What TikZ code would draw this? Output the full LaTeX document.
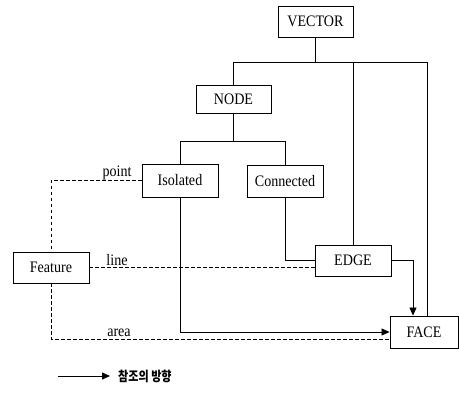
\documentclass[tikz,border=0pt]{standalone}
\usepackage{fontspec}
\setmainfont{Liberation Serif}[FakeStretch=0.88]
\newfontfamily\kr{Noto Sans CJK KR}[FakeStretch=0.82]
\usetikzlibrary{arrows.meta}
\begin{document}
\begin{tikzpicture}[x=1pt,y=-1pt,
  box/.style={draw,line width=0.9pt,inner sep=0pt,font=\fontsize{16}{18}\selectfont},
  conn/.style={line width=0.8pt},
  ref/.style={line width=0.8pt,-{Triangle[length=8pt,width=7pt]}},
  dsh/.style={line width=0.8pt,dash pattern=on 3.5pt off 2.5pt},
  lbl/.style={inner sep=0pt,font=\fontsize{16}{18}\selectfont}]
\useasboundingbox (0,0) rectangle (459,392);
\node[box,minimum width=75pt,minimum height=31pt] (VECTOR) at (315.5,21.5) {VECTOR};
\node[box,minimum width=75pt,minimum height=28pt] (NODE) at (233.5,99) {NODE};
\node[box,minimum width=76pt,minimum height=33pt] (Isolated) at (180,180.5) {Isolated};
\node[box,minimum width=76pt,minimum height=32pt] (Connected) at (285,181) {Connected};
\node[box,minimum width=76pt,minimum height=31pt] (EDGE) at (353,260.5) {EDGE};
\node[box,minimum width=68pt,minimum height=32pt] (FACE) at (424,332) {FACE};
\node[box,minimum width=76pt,minimum height=31pt] (Feature) at (51,267.5) {Feature};
\coordinate (vR) at (427,62);
\coordinate (nbar) at (0,141);
% VECTOR tree
\draw[conn] (VECTOR.south) -- (VECTOR.south |- vR);
\draw[conn] (NODE.north) |- (vR) -- (vR |- FACE.north);
\draw[conn] (EDGE.north) -- (EDGE.north |- vR);
% NODE tree
\draw[conn] (NODE.south) -- (NODE.south |- nbar);
\draw[conn] (Isolated.north) |- (Connected.north |- nbar) -- (Connected.north);
\draw[conn] (Connected.south) |- (EDGE.west);
% reference arrows
\draw[ref] (EDGE.east) -| ([xshift=-11pt]FACE.north);
\draw[ref] (Isolated.south) |- (FACE.west);
% dashed feature links
\draw[dsh] (Isolated.west) -| (Feature.north);
\draw[dsh] (Feature.east) -- (EDGE.west |- Feature.east);
\draw[dsh] (Feature.south) |- ([yshift=-7pt]FACE.west);
\node[lbl] (lpoint) at (117,172.5) {point};
\node[lbl] (lline) at (117,260) {line};
\node[lbl] (larea) at (119,333) {area};
% legend
\coordinate (la) at (58,376);
\node[anchor=west,inner sep=0pt,font=\kr\bfseries\fontsize{13.5}{15}\selectfont] (legend) at (118,376) {참조의 방향};
\draw[ref] (la) -- ([xshift=-8pt]legend.west);
\end{tikzpicture}
\end{document}
